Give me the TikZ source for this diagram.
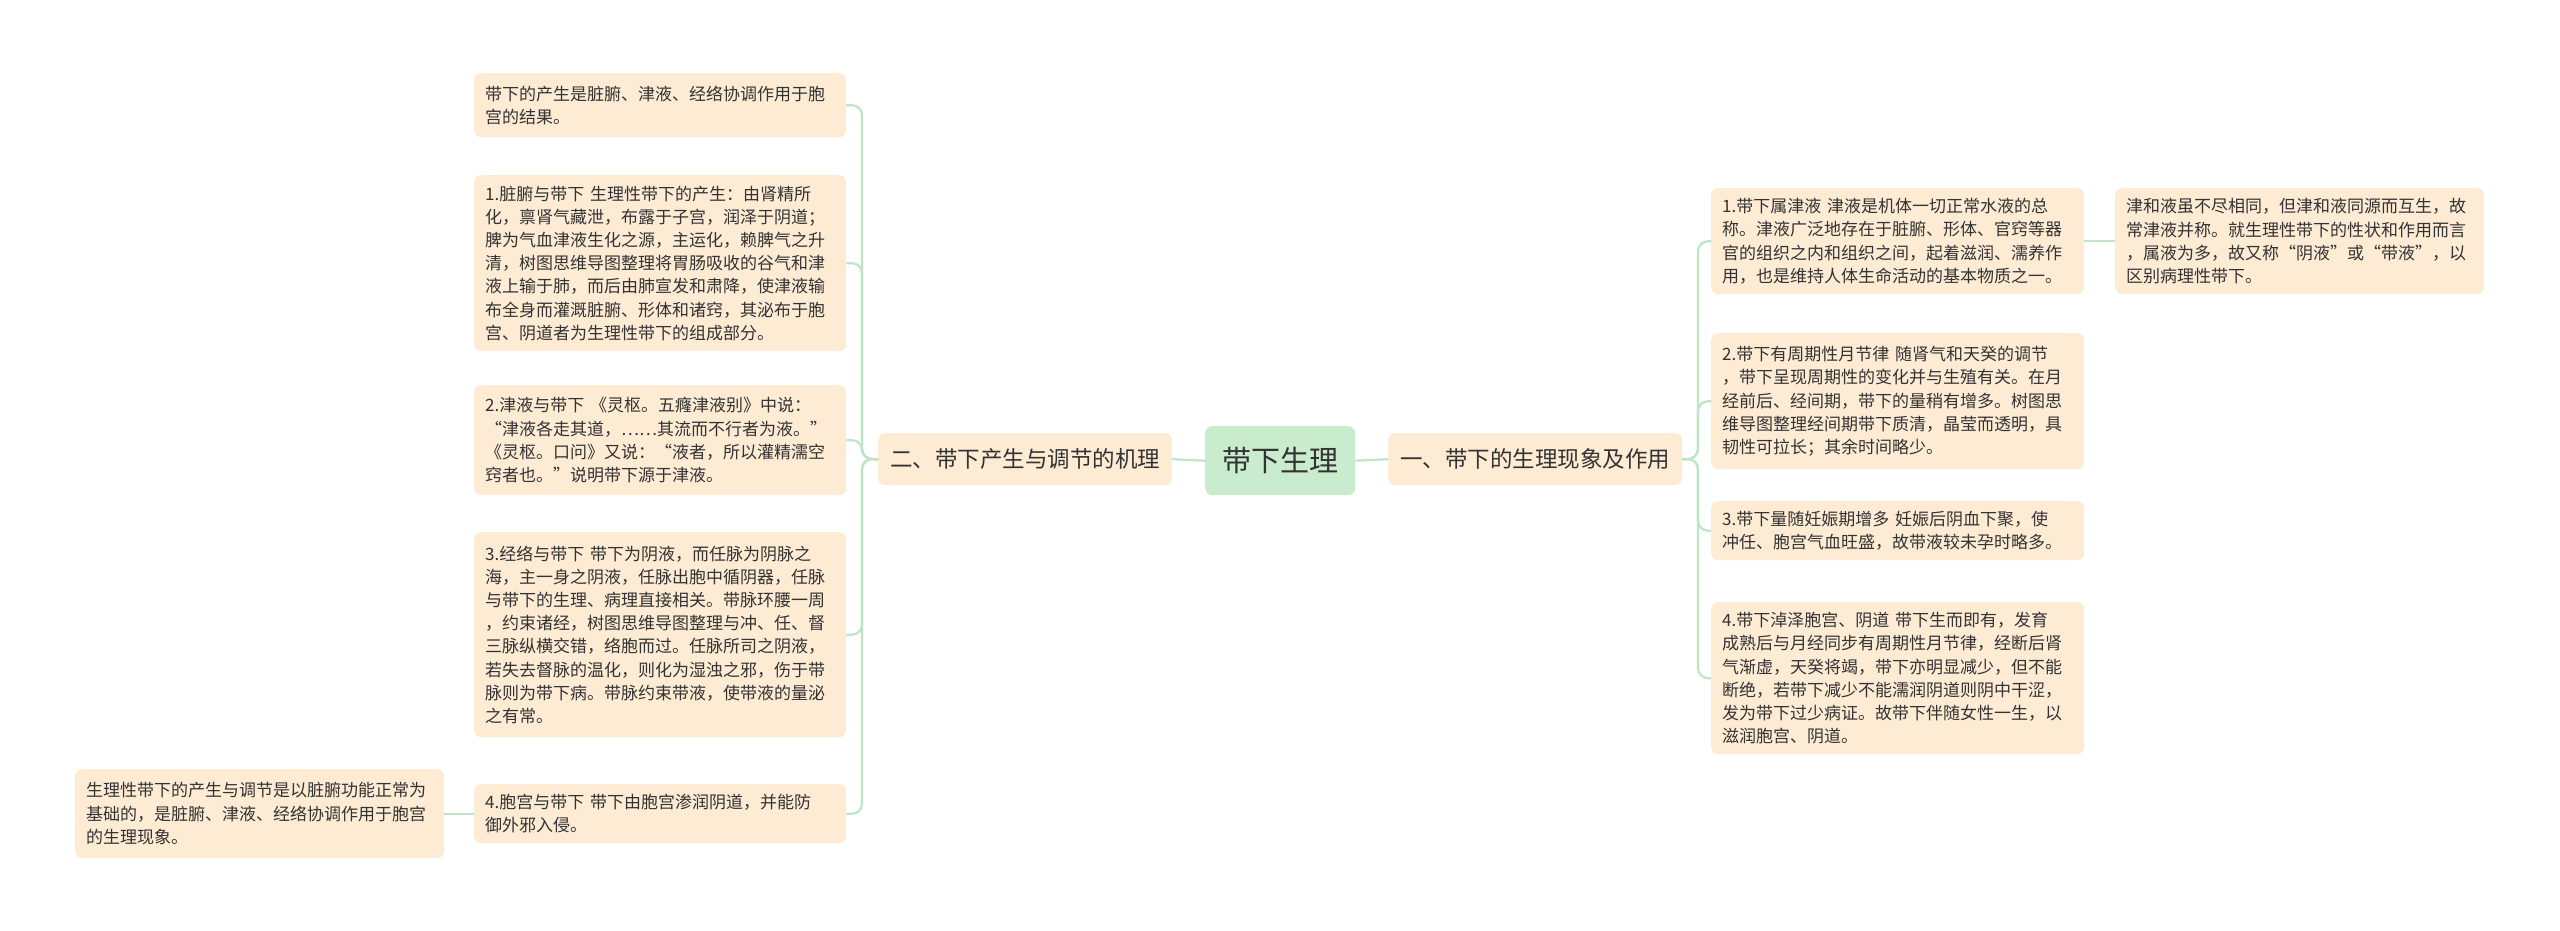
\documentclass[tikz,border=0pt]{standalone}
\usepackage{fontspec}
\newfontfamily\cjk{Noto Sans CJK SC}
\definecolor{peach}{HTML}{FDEBD4}
\definecolor{mint}{HTML}{C8ECCD}
\definecolor{conncol}{HTML}{BDE5C6}
\definecolor{txt}{HTML}{333333}
\tikzset{
  leaf/.style={anchor=north west, fill=peach, rounded corners=7pt, inner xsep=11pt, inner ysep=0pt,
    align=left, text=txt, font=\cjk\fontsize{17}{23.2}\selectfont},
  mid/.style={anchor=north west, fill=peach, rounded corners=7pt, inner sep=0pt, align=center,
    text=txt, font=\cjk\fontsize{22.5}{26}\selectfont, minimum width=294pt, minimum height=52pt},
  root/.style={anchor=north west, fill=mint, rounded corners=7pt, inner sep=0pt, align=center,
    text=txt, font=\cjk\fontsize{29}{32}\selectfont, minimum width=150pt, minimum height=69pt},
  conn/.style={draw=conncol, line width=2.2pt, rounded corners=10pt}
}
\begin{document}
\begin{tikzpicture}[x=1pt,y=-1pt]
\useasboundingbox[fill=white] (0,0) rectangle (2560,931);
% root and main branches
\node[root] (C) at (1205,426) {带下生理};
\node[mid] (Lp) at (878,433) {二、带下产生与调节的机理};
\node[mid] (Rp) at (1388,433) {一、带下的生理现象及作用};
% left leaves
\node[leaf, text width=350pt, minimum height=64pt] (L0) at (474,73) {带下的产生是脏腑、津液、经络协调作用于胞\\宫的结果。};
\node[leaf, text width=350pt, minimum height=176pt] (L1) at (474,175) {1.脏腑与带下 生理性带下的产生：由肾精所\\化，禀肾气藏泄，布露于子宫，润泽于阴道；\\脾为气血津液生化之源，主运化，赖脾气之升\\清，树图思维导图整理将胃肠吸收的谷气和津\\液上输于肺，而后由肺宣发和肃降，使津液输\\布全身而灌溉脏腑、形体和诸窍，其泌布于胞\\宫、阴道者为生理性带下的组成部分。};
\node[leaf, text width=350pt, minimum height=110pt] (L2) at (474,385) {2.津液与带下 《灵枢。五癃津液别》中说：\\“津液各走其道，……其流而不行者为液。”\\《灵枢。口问》又说：“液者，所以灌精濡空\\窍者也。”说明带下源于津液。};
\node[leaf, text width=350pt, minimum height=205pt] (L3) at (474,532) {3.经络与带下 带下为阴液，而任脉为阴脉之\\海，主一身之阴液，任脉出胞中循阴器，任脉\\与带下的生理、病理直接相关。带脉环腰一周\\，约束诸经，树图思维导图整理与冲、任、督\\三脉纵横交错，络胞而过。任脉所司之阴液，\\若失去督脉的温化，则化为湿浊之邪，伤于带\\脉则为带下病。带脉约束带液，使带液的量泌\\之有常。};
\node[leaf, text width=350pt, minimum height=59pt] (L4) at (474,784) {4.胞宫与带下 带下由胞宫渗润阴道，并能防\\御外邪入侵。};
\node[leaf, text width=347pt, minimum height=89pt] (L4c) at (75,769) {生理性带下的产生与调节是以脏腑功能正常为\\基础的，是脏腑、津液、经络协调作用于胞宫\\的生理现象。};
% right leaves
\node[leaf, text width=351pt, minimum height=106pt] (R1) at (1711,188) {1.带下属津液 津液是机体一切正常水液的总\\称。津液广泛地存在于脏腑、形体、官窍等器\\官的组织之内和组织之间，起着滋润、濡养作\\用，也是维持人体生命活动的基本物质之一。};
\node[leaf, text width=347pt, minimum height=106pt] (R1c) at (2115,188) {津和液虽不尽相同，但津和液同源而互生，故\\常津液并称。就生理性带下的性状和作用而言\\，属液为多，故又称“阴液”或“带液”，以\\区别病理性带下。};
\node[leaf, text width=351pt, minimum height=136pt] (R2) at (1711,333) {2.带下有周期性月节律 随肾气和天癸的调节\\，带下呈现周期性的变化并与生殖有关。在月\\经前后、经间期，带下的量稍有增多。树图思\\维导图整理经间期带下质清，晶莹而透明，具\\韧性可拉长；其余时间略少。};
\node[leaf, text width=351pt, minimum height=59pt] (R3) at (1711,501) {3.带下量随妊娠期增多 妊娠后阴血下聚，使\\冲任、胞宫气血旺盛，故带液较未孕时略多。};
\node[leaf, text width=351pt, minimum height=152pt] (R4) at (1711,602) {4.带下淖泽胞宫、阴道 带下生而即有，发育\\成熟后与月经同步有周期性月节律，经断后肾\\气渐虚，天癸将竭，带下亦明显减少，但不能\\断绝，若带下减少不能濡润阴道则阴中干涩，\\发为带下过少病证。故带下伴随女性一生，以\\滋润胞宫、阴道。};
% connectors
\coordinate (lt) at (862,459);
\coordinate (rt) at (1698,459);
\draw[conn] (C.west) -- (Lp.east);
\draw[conn] (C.east) -- (Rp.west);
\foreach \n in {L0,L1,L2,L3,L4} { \draw[conn] (Lp.west) -- (lt) |- (\n.east); }
\foreach \n in {R1,R2,R3,R4} { \draw[conn] (Rp.east) -- (rt) |- (\n.west); }
\draw[conn] (L4.west) -- (L4c.east);
\draw[conn] (R1.east) -- (R1c.west);
\end{tikzpicture}
\end{document}
